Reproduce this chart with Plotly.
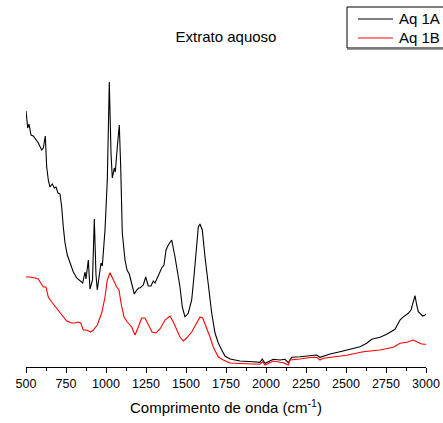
import plotly.graph_objects as go

# FTIR spectra of the aqueous extract (wavenumber in cm^-1, intensity in arbitrary units)
wn_1a = [500, 510.6, 518.8, 531.3, 545.6, 560.6, 576.9, 598.1, 608.1, 620.6, 629.4, 639.4, 650,
         664.4, 676.9, 687.5, 700, 712.5, 723.1, 733.1, 743.8, 758.1, 775, 795.6, 816.9, 837.5,
         854.4, 868.8, 875, 889.4, 900, 915.6, 926.9, 937.5, 945.6, 962.5, 968.8, 976.9, 993.8,
         1008.1, 1020.6, 1031.3, 1039.4, 1051.9, 1058.1, 1070.6, 1083.1, 1091.9, 1101.9, 1118.8,
         1131.3, 1145.6, 1160.6, 1176.9, 1191.9, 1204.4, 1212.5, 1233.1, 1248.1, 1264.4, 1281.3,
         1295.6, 1306.3, 1326.9, 1348.1, 1362.5, 1375, 1389.4, 1410.6, 1431.3, 1445.6, 1462.5,
         1476.9, 1493.8, 1514.4, 1535.6, 1551.9, 1566.9, 1576.9, 1587.5, 1601.9, 1618.8, 1639.4,
         1660.6, 1681.3, 1701.9, 1723.1, 1743.8, 1775, 1837.5, 1918.8, 1962.5, 1976.9, 1993.8,
         2014.4, 2045.6, 2087.5, 2118.8, 2139.4, 2160.6, 2212.5, 2275, 2316.9, 2337.5, 2358.1,
         2400, 2462.5, 2525, 2587.5, 2629.4, 2660.6, 2712.5, 2754.4, 2806.3, 2837.5, 2854.4,
         2889.4, 2906.3, 2920.6, 2931.3, 2941.9, 2951.9, 2962.5, 2979.4, 2993.8, 3000]
int_1a = [2.56, 2.39, 2.43, 2.32, 2.31, 2.28, 2.24, 2.17, 2.19, 2.31, 2.00, 1.87, 1.80,
          1.83, 1.79, 1.80, 1.74, 1.73, 1.60, 1.40, 1.24, 1.12, 1.04, 0.95, 0.89, 0.86,
          0.84, 0.95, 0.88, 1.07, 0.78, 0.87, 1.48, 0.92, 0.77, 0.97, 1.04, 1.01, 1.37,
          1.87, 2.85, 2.14, 1.89, 1.99, 1.95, 2.20, 2.42, 2.00, 1.34, 1.07,
          0.97, 0.93, 0.82, 0.73, 0.77, 0.79, 0.79, 0.82, 0.90, 0.81, 0.81,
          0.86, 0.84, 0.92, 0.99, 1.02, 1.17, 1.22, 1.27, 1.10, 0.97, 0.80,
          0.60, 0.50, 0.54, 0.67, 0.94, 1.27, 1.40, 1.43, 1.37, 1.10, 0.80,
          0.54, 0.34, 0.24, 0.17, 0.11, 0.08, 0.06, 0.053, 0.047, 0.08, 0.037,
          0.053, 0.077, 0.07, 0.077, 0.043, 0.097, 0.103, 0.11, 0.12, 0.097, 0.11,
          0.13, 0.153, 0.18, 0.203, 0.237, 0.277, 0.297, 0.327, 0.377, 0.47, 0.497,
          0.537, 0.57, 0.653, 0.713, 0.62, 0.553, 0.537, 0.51, 0.52, 0.527]

wn_1b = [500, 525, 556.3, 576.9, 591.9, 608.1, 625, 639.4, 660.6, 691.9, 723.1, 754.4, 785.6,
         806.3, 826.9, 841.9, 858.1, 879.4, 904.4, 920.6, 945.6, 973.1, 993.8, 1008.1, 1025,
         1045.6, 1066.9, 1081.3, 1093.8, 1112.5, 1133.1, 1160.6, 1181.3, 1201.9, 1223.1, 1243.8,
         1264.4, 1287.5, 1312.5, 1337.5, 1368.8, 1400, 1420.6, 1441.9, 1462.5, 1483.1, 1504.4,
         1535.6, 1566.9, 1587.5, 1604.4, 1629.4, 1650, 1670.6, 1701.9, 1733.1, 1775, 1837.5,
         1962.5, 1979.4, 1993.8, 2045.6, 2108.1, 2139.4, 2150, 2212.5, 2275, 2316.9, 2337.5,
         2358.1, 2400, 2504.4, 2608.1, 2712.5, 2795.6, 2837.5, 2879.4, 2920.6, 2941.9, 2973.1,
         2993.8, 3000]
int_1b = [0.90, 0.90, 0.89, 0.88, 0.84, 0.80, 0.80, 0.70, 0.65, 0.59, 0.52, 0.46, 0.44,
          0.44, 0.45, 0.44, 0.37, 0.37, 0.35, 0.37, 0.42, 0.54, 0.70, 0.87, 0.943,
          0.87, 0.80, 0.77, 0.64, 0.50, 0.45, 0.40, 0.32, 0.40, 0.49, 0.49,
          0.43, 0.35, 0.34, 0.38, 0.47, 0.51, 0.45, 0.37, 0.30, 0.26, 0.29,
          0.35, 0.45, 0.50, 0.49, 0.39, 0.30, 0.20, 0.10, 0.07, 0.04, 0.035,
          0.027, 0.053, 0.02, 0.06, 0.043, 0.02, 0.07, 0.08, 0.095, 0.097, 0.07,
          0.087, 0.097, 0.117, 0.153, 0.17, 0.197, 0.237, 0.247, 0.27, 0.253, 0.23,
          0.227, 0.227]

x_ticks = [500, 750, 1000, 1250, 1500, 1750, 2000, 2250, 2500, 2750, 3000]

series_names = ["Aq 1A", "Aq 1B"]
series_colors = ["black", "red"]

FONT = "Liberation Sans, Arial, sans-serif"

fig = go.Figure()
for wn, inten, name, color in zip([wn_1a, wn_1b], [int_1a, int_1b], series_names, series_colors):
    fig.add_trace(go.Scatter(x=wn, y=inten, mode="lines", name=name,
                             line=dict(color=color, width=1.1), showlegend=False))

# Legend box drawn in paper coordinates (it runs past the right edge of the figure)
shapes = [
    dict(type="rect", xref="paper", yref="paper", x0=0.8025, x1=1.07, y0=1.0391, y1=1.1726,
         line=dict(color="black", width=1), fillcolor="white", layer="above"),
    dict(type="line", xref="paper", yref="paper", x0=0.8025, x1=1.07, y0=1.0358, y1=1.0358,
         line=dict(color="#777777", width=1.5), layer="above"),
]
annotations = []
for i, (name, color) in enumerate(zip(series_names, series_colors)):
    yl = 1.1336 - i * 0.0619
    shapes.append(dict(type="line", xref="paper", yref="paper", x0=0.83, x1=0.9175,
                       y0=yl, y1=yl, line=dict(color=color, width=1.1), layer="above"))
    annotations.append(dict(text=name, xref="paper", yref="paper", x=0.928, y=yl,
                            xanchor="left", yanchor="middle", showarrow=False,
                            font=dict(size=15, family=FONT, color="black")))

fig.update_layout(
    width=443, height=423,
    margin=dict(l=26, r=17, t=60, b=56, autoexpand=False),
    paper_bgcolor="white", plot_bgcolor="white",
    font=dict(family=FONT, color="black", size=15),
    title=dict(text="Extrato aquoso", x=0.5, xanchor="center", xref="paper",
               y=0.913, yanchor="middle", font=dict(size=15)),
    showlegend=False,
    shapes=shapes,
    annotations=annotations,
    xaxis=dict(range=[500, 3000], tickvals=x_ticks, ticktext=[str(v) for v in x_ticks],
               showline=True, linecolor="black", linewidth=1,
               ticks="outside", ticklen=5, tickwidth=1, tickcolor="black",
               minor=dict(dtick=125, ticks="outside", ticklen=3, tickwidth=1,
                          tickcolor="black"),
               showgrid=False, zeroline=False,
               tickfont=dict(size=12.5),
               title=dict(text="Comprimento de onda (cm<sup>-1</sup>)",
                          font=dict(size=15), standoff=12)),
    yaxis=dict(range=[0, 3.07], visible=False, showgrid=False, zeroline=False),
)

fig.write_html("out.html")
